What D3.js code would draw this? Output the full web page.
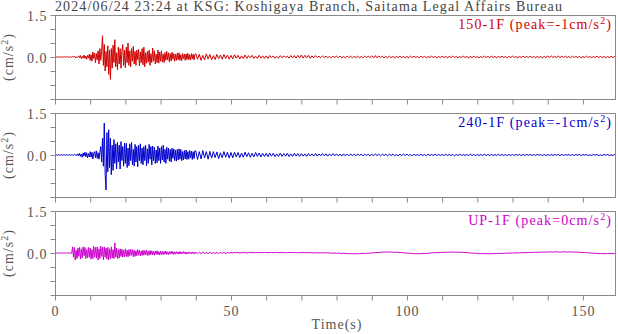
<!DOCTYPE html>
<html>
<head>
<meta charset="utf-8">
<script src="https://cdn.jsdelivr.net/npm/d3@7"></script>
<style>
  html, body { margin: 0; padding: 0; background: #fff; }
  svg { display: block; }
  text { font-family: "Liberation Serif", "Times New Roman", serif; }
</style>
</head>
<body>
<svg id="chart" width="618" height="334"></svg>
<script>
// ---------------- DATA ----------------
const titleText = "2024/06/24 23:24 at KSG: Koshigaya Branch, Saitama Legal Affairs Bureau";
const channels = ["150-1F", "240-1F", "UP-1F"];
const peaks = ["-1", "-1", "0"];
const xTickLabels = [0, 50, 100, 150];
const yTickLabels = ["1.5", "0.0", "-1.5"];
// sample times (s): every 0.25 s up to 40 s, then every 0.5 s
const sampleTimes = d3.range(0, 40, 0.25).concat(d3.range(40, 160, 0.5));

// acceleration (cm/s^2)
const ch150 = [
  // 0-40 s, 0.25 s step (rows of 5 s)
  0,.01,0,-.01,.01,0,-.01,0,.01,-.01, 0,.01,-.01,0,.01,0,-.01,.01,0,-.01,
  .02,-.01,.03,-.02,.01,-.03,.02,.04,-.03,.05, -.06,.02,-.04,.07,-.05,.03,-.08,.06,-.04,.1,
  -.12,.08,-.15,.18,-.06,.14,-.2,.12,-.1,.22, -.25,.3,-.12,.2,.76,-.3,.45,-.5,.2,-.35,
  .4,-.62,.25,-.8,.3,-.4,.42,-.2,.62,-.35, .15,-.45,.35,-.25,.3,-.4,.2,.45,-.3,.25,
  -.38,.35,-.2,.5,-.3,.22,-.35,.3,-.15,.38, -.25,.2,-.3,.25,-.1,.28,-.32,.18,-.2,.3,
  -.28,.35,-.35,.15,-.22,.2,-.18,.25,-.3,.12, -.2,.32,-.15,.22,-.25,.1,-.2,.25,-.22,.18,
  -.15,.22,-.18,.1,-.2,.16,-.12,.2,-.1,.15, -.18,.12,-.14,.17,-.08,.12,-.15,.1,-.12,.14,
  -.1,.15,-.12,.08,-.13,.12,-.06,.1,-.12,.11, -.09,.13,-.1,.08,-.11,.12,-.07,.1,-.1,.09,
  // 40-160 s, 0.5 s step (rows of 10 s)
  .12,-.08,.1,-.12,.06,-.1,.11,-.07,.09,-.1, .05,-.09,.09,-.06,.07,-.08,.09,-.05,.07,-.08,
  .06,-.07,.08,-.04,.06,-.07,.04,-.06,.07,-.05, .05,-.03,.06,-.05,.03,-.05,.06,-.04,.04,-.05,
  .04,-.05,.05,-.03,.04,-.04,.02,-.04,.05,-.03, .04,-.02,.03,-.04,.05,-.03,.05,-.04,.06,-.03,
  .07,-.04,.06,-.03,.06,-.05,.04,-.03,.05,-.02, .03,-.03,.04,-.02,.03,-.03,.02,-.03,.03,-.02,
  .03,-.02,.03,-.03,.02,-.03,.03,-.02,.03,-.03, .02,-.02,.03,-.03,.02,-.03,.03,-.02,.03,-.02,
  .04,-.03,.05,-.03,.04,-.02,.03,-.03,.02,-.03, .03,-.02,.02,-.03,.02,-.02,.03,-.02,.02,-.03,
  .02,-.03,.03,-.02,.03,-.02,.02,-.03,.03,-.02, .02,-.03,.02,-.02,.03,-.02,.02,-.03,.02,-.02,
  .03,-.02,.02,-.03,.02,-.02,.03,-.02,.02,-.03, .02,-.02,.03,-.02,.02,-.03,.02,-.02,.03,-.02,
  .02,-.03,.02,-.02,.03,-.02,.02,-.02,.03,-.02, .02,-.03,.02,-.02,.03,-.02,.02,-.03,.02,-.02,
  .03,-.02,.02,-.03,.02,-.02,.03,-.02,.02,-.02, .03,-.02,.02,-.03,.02,-.02,.02,-.03,.02,-.02,
  .03,-.02,.04,-.02,.03,-.03,.04,-.02,.03,-.02, .03,-.02,.02,-.03,.03,-.02,.02,-.02,.02,-.03,
  .02,-.02,.03,-.02,.02,-.03,.02,-.02,.03,-.02, .02,-.02,.02,-.03,.02,-.02,.02,-.02,.02,-.02
];
const ch240 = [
  0,.01,0,-.01,.01,0,-.01,.01,0,-.01, .01,0,-.01,.01,0,-.01,.01,0,-.01,.01,
  0,-.01,.02,-.01,.01,-.02,.04,-.03,.06,-.05, .03,-.08,.07,-.04,.1,-.06,.08,-.1,.05,-.07,
  .12,-.08,.1,-.14,.06,.12,-.1,.15,-.12,.08, -.15,.1,.3,-.25,.6,-.4,1.14,-.7,-1.25,.8,
  -.6,.9,-.45,.6,-.7,.35,-.55,.55,-.3,.4, -.5,.45,-.25,.35,-.5,.48,-.2,.3,-.4,.42,
  -.3,.42,-.45,.25,-.38,.4,-.2,.45,-.35,.2, -.4,.38,-.25,.3,-.42,.35,-.2,.4,-.3,.25,
  -.35,.3,-.2,.35,-.38,.22,-.3,.38,-.15,.3, -.35,.32,-.2,.28,-.3,.18,-.28,.32,-.2,.25,
  -.3,.3,-.18,.35,-.25,.2,-.3,.28,-.15,.25, -.22,.2,-.25,.24,-.12,.22,-.2,.18,-.22,.2,
  -.18,.22,-.15,.2,-.2,.12,-.18,.16,-.14,.18, -.16,.12,-.15,.16,-.1,.14,-.16,.12,-.13,.15,
  .15,-.16,.12,-.14,.16,-.1,.12,-.15,.13,-.11, .12,-.09,.11,-.13,.08,-.1,.12,-.08,.1,-.11,
  .09,-.1,.1,-.07,.09,-.09,.07,-.08,.1,-.06, .08,-.08,.06,-.07,.09,-.05,.07,-.07,.06,-.05,
  .06,-.06,.07,-.04,.06,-.06,.04,-.05,.06,-.05, .05,-.04,.06,-.05,.04,-.05,.06,-.04,.05,-.05,
  .05,-.04,.04,-.05,.05,-.03,.04,-.04,.05,-.04, .04,-.03,.05,-.03,.04,-.04,.04,-.03,.05,-.03,
  .04,-.03,.03,-.04,.04,-.03,.03,-.03,.04,-.03, .03,-.03,.04,-.02,.03,-.03,.03,-.02,.03,-.03,
  .03,-.03,.04,-.02,.03,-.03,.03,-.02,.03,-.03, .03,-.02,.03,-.03,.02,-.03,.03,-.02,.03,-.02,
  .03,-.02,.02,-.03,.03,-.02,.02,-.02,.03,-.02, .02,-.03,.03,-.02,.02,-.02,.03,-.02,.02,-.02,
  .02,-.02,.03,-.02,.02,-.02,.02,-.03,.02,-.02, .03,-.02,.02,-.02,.02,-.02,.03,-.02,.02,-.02,
  .02,-.02,.02,-.02,.03,-.02,.02,-.02,.02,-.02, .02,-.02,.03,-.02,.02,-.02,.02,-.02,.02,-.02,
  .02,-.02,.02,-.01,.02,-.02,.02,-.02,.02,-.01, .02,-.02,.02,-.02,.02,-.01,.02,-.02,.02,-.02,
  .02,-.02,.02,-.02,.02,-.01,.02,-.02,.02,-.02, .02,-.01,.02,-.02,.02,-.02,.02,-.01,.02,-.02,
  .02,-.01,.02,-.02,.01,-.02,.02,-.01,.02,-.02, .01,-.02,.02,-.01,.02,-.02,.01,-.02,.02,-.01
];
const chUP = [
  0,0,0,0,0,0,0,0,0,0, 0,0,0,0,0,0,0,0,0,-.01,
  .22,-.15,.2,-.25,.1,-.2,.18,-.12,.2,-.22, .15,-.18,.22,-.1,.2,-.2,.12,-.18,.2,-.15,
  .18,-.22,.12,-.2,.24,-.15,.2,-.18,.22,-.25, .15,-.2,.25,-.12,.2,-.24,.22,-.15,.18,-.22,
  .2,-.25,.15,-.2,.22,-.18,.12,-.2,.36,-.15, .18,-.2,.12,-.18,.15,-.12,.14,-.15,.1,-.14,
  .15,-.12,.1,-.14,.12,-.1,.14,-.08,.12,-.13, .1,-.12,.08,-.1,.12,-.08,.1,-.1,.07,-.09,
  .1,-.08,.09,-.06,.1,-.09,.07,-.08,.09,-.06, .08,-.07,.06,-.08,.07,-.05,.08,-.06,.05,-.07,
  .07,-.05,.06,-.06,.05,-.04,.07,-.05,.04,-.06, .05,-.04,.06,-.03,.05,-.05,.04,-.04,.05,-.03,
  .04,-.04,.05,-.03,.04,-.03,.05,-.02,.04,-.04, .03,-.03,.04,-.02,.03,-.03,.04,-.02,.03,-.03,
  .03,-.03,.03,-.02,.03,-.02,.02,-.02,.03,-.02, .02,-.02,.02,-.02,.02,-.01,.02,-.02,.02,-.01,
  .02,0,.02,.01,.02,0,.01,.02,.01,0, .02,.01,.02,.01,.01,.02,.01,.02,.01,.02,
  .02,.01,.02,.02,.01,.02,.02,.01,.02,.02, .01,.02,.01,.02,.02,.01,.02,.01,.01,.02,
  .01,.02,.01,.01,.02,.01,.01,0,.01,.01, 0,.01,0,.01,0,.01,0,0,-.01,0,
  -.01,0,-.01,-.02,-.01,-.02,-.02,-.03,-.02,-.03, -.03,-.02,-.03,-.02,-.02,-.01,-.02,-.01,0,-.01,
  0,.01,.01,.02,.02,.03,.03,.03,.04,.03, .04,.03,.03,.02,.03,.02,.01,.02,.01,0,
  0,-.01,-.01,-.02,-.02,-.03,-.02,-.03,-.02,-.02, -.01,-.02,-.01,0,0,.01,.01,.02,.01,.02,
  .02,.03,.02,.03,.03,.03,.04,.03,.03,.03, .02,.03,.02,.02,.01,.01,0,0,-.01,-.01,
  -.01,-.02,-.02,-.02,-.03,-.02,-.03,-.03,-.02,-.03, -.02,-.02,-.02,-.01,-.02,-.01,-.01,0,-.01,0,
  0,0,.01,0,.01,.01,.01,.02,.01,.02, .02,.02,.02,.03,.02,.03,.03,.03,.03,.04,
  .03,.04,.04,.03,.04,.04,.04,.03,.04,.04, .04,.03,.04,.04,.03,.04,.03,.03,.03,.02,
  .02,.02,.01,.01,0,0,-.01,-.01,-.01,-.02, -.02,-.02,-.02,-.03,-.02,-.02,-.02,-.02,-.02,-.02
];
const seriesValues = [ch150, ch240, chUP];
const seriesColors = ["#d00000", "#0000cc", "#cc00cc"];

// ---------------- LAYOUT ----------------
const svg = d3.select("#chart");
const left = 55, right = 616;
const panelTops = [15, 113, 211];
const panelH = 84;
const axisColor = "#8a8a8a";
const textColor = "#555";
const fontSize = 14;

const x = d3.scaleLinear().domain([0, 159.4]).range([left, right]);

svg.append("defs").append("clipPath").attr("id", "clip")
  .append("rect").attr("x", left).attr("y", 0).attr("width", right - left).attr("height", 334);

function fitText(sel, target) {
  const node = sel.node();
  const n = node.textContent.length;
  const w = node.getComputedTextLength();
  sel.attr("letter-spacing", ((target - w) / n).toFixed(3));
}

// Title
const title = svg.append("text")
  .attr("x", left).attr("y", 11)
  .attr("font-size", fontSize).attr("fill", "#444")
  .text(titleText);
fitText(title, 508);

panelTops.forEach((top, i) => {
  const y = d3.scaleLinear().domain([-1.5, 1.5]).range([top + panelH, top]);
  const g = svg.append("g");

  // waveform
  const line = d3.line()
    .x((d, k) => x(sampleTimes[k]))
    .y(d => y(d));
  g.append("path")
    .datum(seriesValues[i])
    .attr("clip-path", "url(#clip)")
    .attr("fill", "none")
    .attr("stroke", seriesColors[i])
    .attr("stroke-width", 1)
    .attr("stroke-linejoin", "round")
    .attr("d", line);

  // frame
  g.append("rect")
    .attr("x", left + 0.5).attr("y", top + 0.5)
    .attr("width", right - left - 1).attr("height", panelH)
    .attr("fill", "none").attr("stroke", axisColor).attr("stroke-width", 1);

  // y axis
  const yAxis = d3.axisLeft(y).tickValues(d3.range(-1.5, 1.51, 0.5)).tickSize(5)
    .tickFormat(d => {
      const s = d3.format(".1f")(d);
      return yTickLabels.includes(s) ? s : "";
    });
  const ya = g.append("g").attr("transform", `translate(${left + 0.5},0)`).call(yAxis);
  ya.select(".domain").remove();
  ya.selectAll(".tick line").attr("stroke", axisColor);
  ya.selectAll(".tick text")
    .attr("font-family", '"Liberation Serif", serif')
    .attr("font-size", fontSize).attr("fill", textColor)
    .attr("letter-spacing", 1).attr("x", -8).attr("dy", "0.36em");

  // x axis
  const xAxis = d3.axisBottom(x).tickValues(d3.range(0, 160, 10)).tickSize(5)
    .tickFormat(d => (i === 2 && xTickLabels.includes(d)) ? String(d) : "");
  const xa = g.append("g").attr("transform", `translate(0,${top + panelH + 0.5})`).call(xAxis);
  xa.select(".domain").remove();
  xa.selectAll(".tick line").attr("stroke", axisColor);
  xa.selectAll(".tick text")
    .attr("font-family", '"Liberation Serif", serif')
    .attr("font-size", fontSize).attr("fill", textColor)
    .attr("letter-spacing", 1).attr("y", 11).attr("dy", "0.71em");

  // y label
  const yl = svg.append("text")
    .attr("transform", `translate(13,${top + panelH / 2}) rotate(-90)`)
    .attr("text-anchor", "middle")
    .attr("font-size", fontSize).attr("fill", textColor)
    .attr("letter-spacing", 1);
  yl.append("tspan").text("(cm/s");
  yl.append("tspan").attr("dy", -5).attr("font-size", 10).text("2");
  yl.append("tspan").attr("dy", 5).text(")");

  // channel legend
  const lg = svg.append("text")
    .attr("x", 612).attr("y", top + 14)
    .attr("text-anchor", "end")
    .attr("font-size", fontSize).attr("fill", seriesColors[i])
    .attr("letter-spacing", 1.1);
  lg.append("tspan").text(`${channels[i]} (peak=${peaks[i]}cm/s`);
  lg.append("tspan").attr("dy", -5).attr("font-size", 10).text("2");
  lg.append("tspan").attr("dy", 5).text(")");
});

// x axis title
svg.append("text")
  .attr("x", 337).attr("y", 329)
  .attr("text-anchor", "middle")
  .attr("font-size", fontSize).attr("fill", textColor)
  .attr("letter-spacing", 1)
  .text("Time(s)");
</script>
</body>
</html>
